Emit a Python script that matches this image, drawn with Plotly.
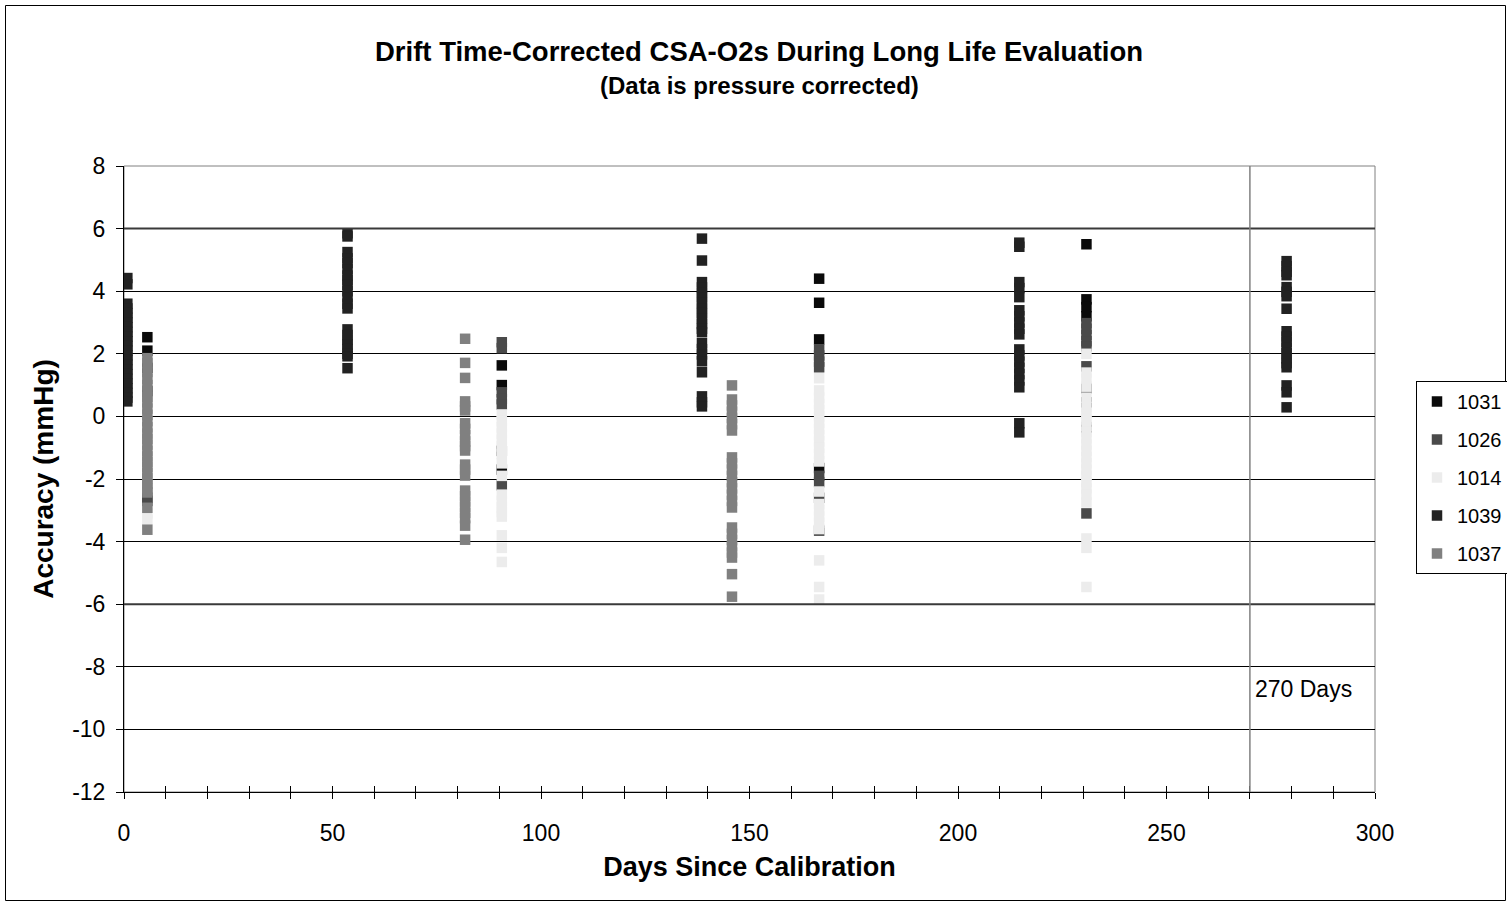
import plotly.graph_objects as go

# ---------------- data ----------------
series_names = ["1031", "1026", "1014", "1039", "1037"]
series_colors = ["#0a0a0a", "#4a4a4a", "#ececec", "#222222", "#808080"]

# 1031
s1031_x = [5.6]*4 + [90.6]*3 + [166.7]*4 + [230.8]*4
s1031_y = [2.53, 2.1, 1.55, 0.8,
           1.63, 1.0, -1.7,
           4.4, 3.63, 2.46, -1.65,
           5.5, 3.74, 3.49, 3.2]

# 1026
s1026_x = [5.6]*2 + [90.6]*7 + [166.7]*8 + [230.8]*10
s1026_y = [-2.6, -2.7,
           2.37, 2.18, 0.77, 0.55, 0.38, -1.1, -2.2,
           2.14, 1.95, 1.75, 1.57, -1.9, -2.1, -2.6, -3.65,
           2.98, 2.8, 2.6, 2.4, 2.24, 1.6, 0.9, 0.45, -0.35, -3.1]

# 1014
s1014_y_a = [1.2, -3.1, -3.3]
s1014_y_b = [0.06, -0.15, -0.35, -0.55, -0.75, -0.96, -1.2, -1.5, -1.9, -2.5,
             -2.7, -2.9, -3.05, -3.2, -3.8, -4.2, -4.65]
s1014_y_c = [1.22, 0.83, 0.6, 0.4, 0.2, 0.0, -0.2, -0.4, -0.6, -0.8, -1.0,
             -1.2, -1.44, -2.4, -2.8, -3.0, -3.2, -3.4, -3.6, -4.6, -5.45, -5.85]
s1014_y_d = [2.0, 1.4, 1.2, 0.95, 0.6, 0.3, 0.1, -0.1, -0.3, -0.5, -0.7, -0.9,
             -1.1, -1.3, -1.5, -1.7, -1.9, -2.1, -2.3, -2.5, -2.75, -3.9, -4.2, -5.45]
s1014_x = ([5.6]*len(s1014_y_a) + [90.6]*len(s1014_y_b)
           + [166.7]*len(s1014_y_c) + [230.8]*len(s1014_y_d))
s1014_y = s1014_y_a + s1014_y_b + s1014_y_c + s1014_y_d

# 1039
s1039_y_a = [4.42, 4.22, 3.6, 3.45, 3.3, 3.15, 3.0, 2.85, 2.7, 2.55, 2.4, 2.25,
             2.1, 1.95, 1.8, 1.65, 1.5, 1.35, 1.2, 1.05, 0.9, 0.75, 0.6, 0.48]
s1039_y_b = [5.85, 5.75, 5.25, 5.05, 4.9, 4.7, 4.5, 4.35, 4.2, 4.0, 3.8, 3.6,
             3.45, 2.78, 2.6, 2.45, 2.3, 2.15, 2.0, 1.92, 1.54]
s1039_y_c = [5.68, 4.98, 4.29, 4.12, 3.95, 3.8, 3.62, 3.45, 3.3, 3.12, 2.95,
             2.8, 2.69, 2.34, 2.15, 1.98, 1.76, 1.41, 0.64, 0.45, 0.32]
s1039_y_d = [5.55, 5.42, 4.29, 4.1, 3.81, 3.39, 3.2, 3.0, 2.8, 2.62, 2.14,
             1.95, 1.75, 1.55, 1.35, 1.15, 0.93, -0.22, -0.51]
s1039_y_e = [4.96, 4.8, 4.62, 4.51, 4.13, 3.98, 3.84, 3.44, 2.72, 2.55, 2.38,
             2.2, 2.02, 1.85, 1.7, 1.57, 0.99, 0.77, 0.29]
s1039_x = ([0.8]*len(s1039_y_a) + [53.6]*len(s1039_y_b) + [138.6]*len(s1039_y_c)
           + [214.7]*len(s1039_y_d) + [278.8]*len(s1039_y_e))
s1039_y = s1039_y_a + s1039_y_b + s1039_y_c + s1039_y_d + s1039_y_e

# 1037
s1037_y_a = [1.86, 1.7, 1.42, 1.2, 1.0, 0.82, 0.62, 0.45, 0.25, 0.05, -0.15,
             -0.35, -0.55, -0.72, -0.9, -1.1, -1.28, -1.45, -1.62, -1.8, -1.98,
             -2.15, -2.3, -2.43, -2.92, -3.62]
s1037_y_b = [2.48, 1.71, 1.23, 0.48, 0.32, 0.19, -0.22, -0.4, -0.6, -0.8, -0.95,
             -1.09, -1.54, -1.7, -1.89, -2.37, -2.55, -2.72, -2.9, -3.08, -3.25,
             -3.49, -3.94]
s1037_y_c = [0.99, 0.54, 0.35, 0.15, -0.05, -0.25, -0.45, -1.31, -1.5, -1.7,
             -1.9, -2.1, -2.3, -2.5, -2.7, -2.91, -3.55, -3.75, -3.95, -4.15,
             -4.35, -4.51, -5.04, -5.76]
s1037_x = ([5.6]*len(s1037_y_a) + [81.8]*len(s1037_y_b) + [145.8]*len(s1037_y_c))
s1037_y = s1037_y_a + s1037_y_b + s1037_y_c

series_x = [s1031_x, s1026_x, s1014_x, s1039_x, s1037_x]
series_y = [s1031_y, s1026_y, s1014_y, s1039_y, s1037_y]

x_range = [0, 300]
y_range = [-12, 8]
y_tickvals = [-12, -10, -8, -6, -4, -2, 0, 2, 4, 6, 8]
y_ticktext = ["-12", "-10", "-8", "-6", "-4", "-2", "0", "2", "4", "6", "8"]
limit_lines = [6, -6]
marker_day = 270
marker_label = "270 Days"

FONT = "Liberation Sans, Arial, sans-serif"

fig = go.Figure()
for name, color, xs, ys in zip(series_names, series_colors, series_x, series_y):
    fig.add_trace(go.Scatter(
        x=xs, y=ys, mode="markers", name=name, legendgroup=name,
        marker=dict(symbol="square", size=10.5, color=color, line=dict(width=0)),
    ))

# helper trace for the inside half of x-axis ticks
fig.add_trace(go.Scatter(x=[], y=[], xaxis="x2", showlegend=False, hoverinfo="skip"))

W, H = 1507, 907
L, R, T, B = 124, 1375, 166, 792
pw, ph = R - L, B - T

def px(xp):
    return (xp - L) / pw

def py(yp):
    return (B - yp) / ph

fig.update_layout(
    width=W, height=H,
    margin=dict(l=L, r=W - R, t=T, b=H - B, autoexpand=False),
    paper_bgcolor="white", plot_bgcolor="white",
    font=dict(family=FONT, size=23, color="black"),
    showlegend=True,
    legend=dict(
        x=px(1416), y=py(381), xanchor="left", yanchor="top",
        bordercolor="black", borderwidth=1, bgcolor="white",
        font=dict(size=20), tracegroupgap=9, itemwidth=30,
    ),
    xaxis=dict(
        range=x_range, dtick=50, tick0=0, showgrid=False, zeroline=False,
        showline=True, linecolor="black", linewidth=1,
        ticks="outside", ticklen=6, tickcolor="black",
        minor=dict(dtick=10, ticks="outside", ticklen=6, tickcolor="black"),
        ticklabelstandoff=14, tickfont=dict(size=23),
        title=dict(text="<b>Days Since Calibration</b>", standoff=12,
                   font=dict(size=27)),
    ),
    xaxis2=dict(
        range=x_range, dtick=10, tick0=0, overlaying="x", anchor="y",
        showgrid=False, zeroline=False, showline=False,
        ticks="inside", ticklen=6, tickcolor="black", showticklabels=False,
    ),
    yaxis=dict(
        range=y_range, tickmode="array", tickvals=y_tickvals, ticktext=y_ticktext,
        showgrid=True, gridcolor="black",
        gridwidth=1, zeroline=True, zerolinecolor="black", zerolinewidth=1,
        showline=True, linecolor="black", linewidth=1,
        ticks="outside", ticklen=7, tickcolor="black",
        ticklabelstandoff=6, tickfont=dict(size=23),
        title=dict(text="<b>Accuracy (mmHg)</b>", standoff=10,
                   font=dict(size=28)),
    ),
)

# plot frame (gray) and outer chart border
fig.add_shape(type="rect", xref="paper", yref="paper", x0=0, x1=1, y0=0, y1=1,
              line=dict(color="#808080", width=1), layer="below")
fig.add_shape(type="rect", xref="paper", yref="paper",
              x0=px(5.5), x1=px(1505.5), y0=py(900.5), y1=py(5.5),
              line=dict(color="black", width=1), layer="below")

for v in limit_lines:
    fig.add_hline(y=v, line=dict(color="#3a3a3a", width=2), layer="above")
fig.add_vline(x=marker_day, line=dict(color="#808080", width=1.5), layer="above")
fig.add_annotation(x=marker_day, y=-8.7, xref="x", yref="y", text=marker_label,
                   showarrow=False, xanchor="left", yanchor="middle", xshift=3,
                   font=dict(size=23, family=FONT))

fig.add_annotation(x=px(759), y=py(52), xref="paper", yref="paper",
                   text="<b>Drift Time-Corrected CSA-O2s During Long Life Evaluation</b>",
                   showarrow=False, xanchor="center", yanchor="middle",
                   font=dict(size=27.5, family=FONT))
fig.add_annotation(x=px(759), y=py(86), xref="paper", yref="paper",
                   text="<b>(Data is pressure corrected)</b>",
                   showarrow=False, xanchor="center", yanchor="middle",
                   font=dict(size=24, family=FONT))

fig.write_html("out.html")
